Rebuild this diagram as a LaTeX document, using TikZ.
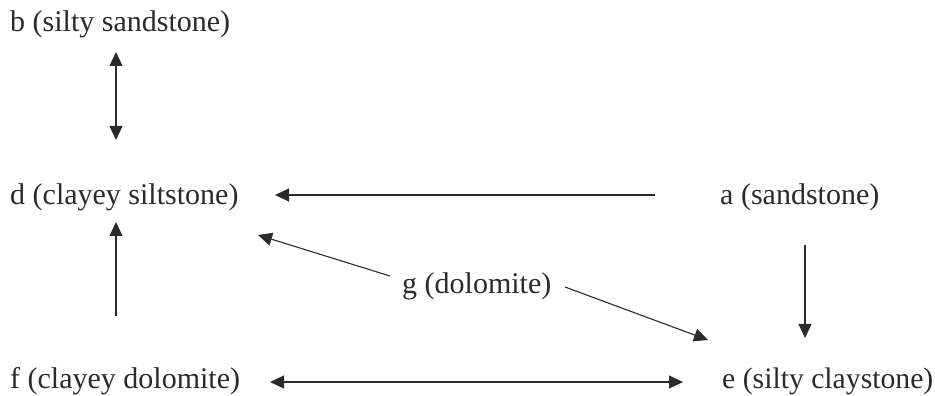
\documentclass[tikz,border=0pt]{standalone}
\usepackage{fontspec}
\setmainfont{Liberation Serif}
\usetikzlibrary{arrows.meta}
\definecolor{ink}{HTML}{2B2B2B}
\tikzset{
  lbl/.style={anchor=base west, inner sep=0pt, font=\fontsize{30}{36}\selectfont, text=ink},
  arr/.style={draw=ink, line width=1.1pt, -{Triangle[length=14pt,width=13pt]}},
  darr/.style={draw=ink, line width=1.1pt, {Triangle[length=14pt,width=13pt]}-{Triangle[length=14pt,width=13pt]}}
}
\begin{document}
\begin{tikzpicture}[x=1pt,y=1pt]
\useasboundingbox (0,0) rectangle (935,396);
\node[lbl] (b) at (10,364) {b (silty sandstone)};
\node[lbl] (d) at (10,191) {d (clayey siltstone)};
\node[lbl] (a) at (720,191) {a (sandstone)};
\node[lbl] (g) at (402,102) {g (dolomite)};
\node[lbl] (f) at (10,7.5) {f (clayey dolomite)};
\node[lbl, font=\fontsize{29.7}{36}\selectfont] (e) at (722,7.5) {e (silty claystone)};
\coordinate (b1) at (116,344);
\coordinate (d1) at (116,256);
\coordinate (a1) at (655,201);
\coordinate (d2) at (275,201);
\coordinate (a2) at (805,151);
\coordinate (e1) at (805,58);
\coordinate (g1) at (390,120);
\coordinate (d3) at (258,161);
\coordinate (g2) at (565,109);
\coordinate (e2) at (708,56);
\coordinate (f1) at (116,80);
\coordinate (d4) at (116,174);
\coordinate (f2) at (270,14);
\coordinate (e3) at (683,14);
\draw[darr] (b1) -- (d1);
\draw[arr] (a1) -- (d2);
\draw[arr] (a2) -- (e1);
\draw[arr] (g1) -- (d3);
\draw[arr] (g2) -- (e2);
\draw[arr] (f1) -- (d4);
\draw[darr] (f2) -- (e3);
\end{tikzpicture}
\end{document}
